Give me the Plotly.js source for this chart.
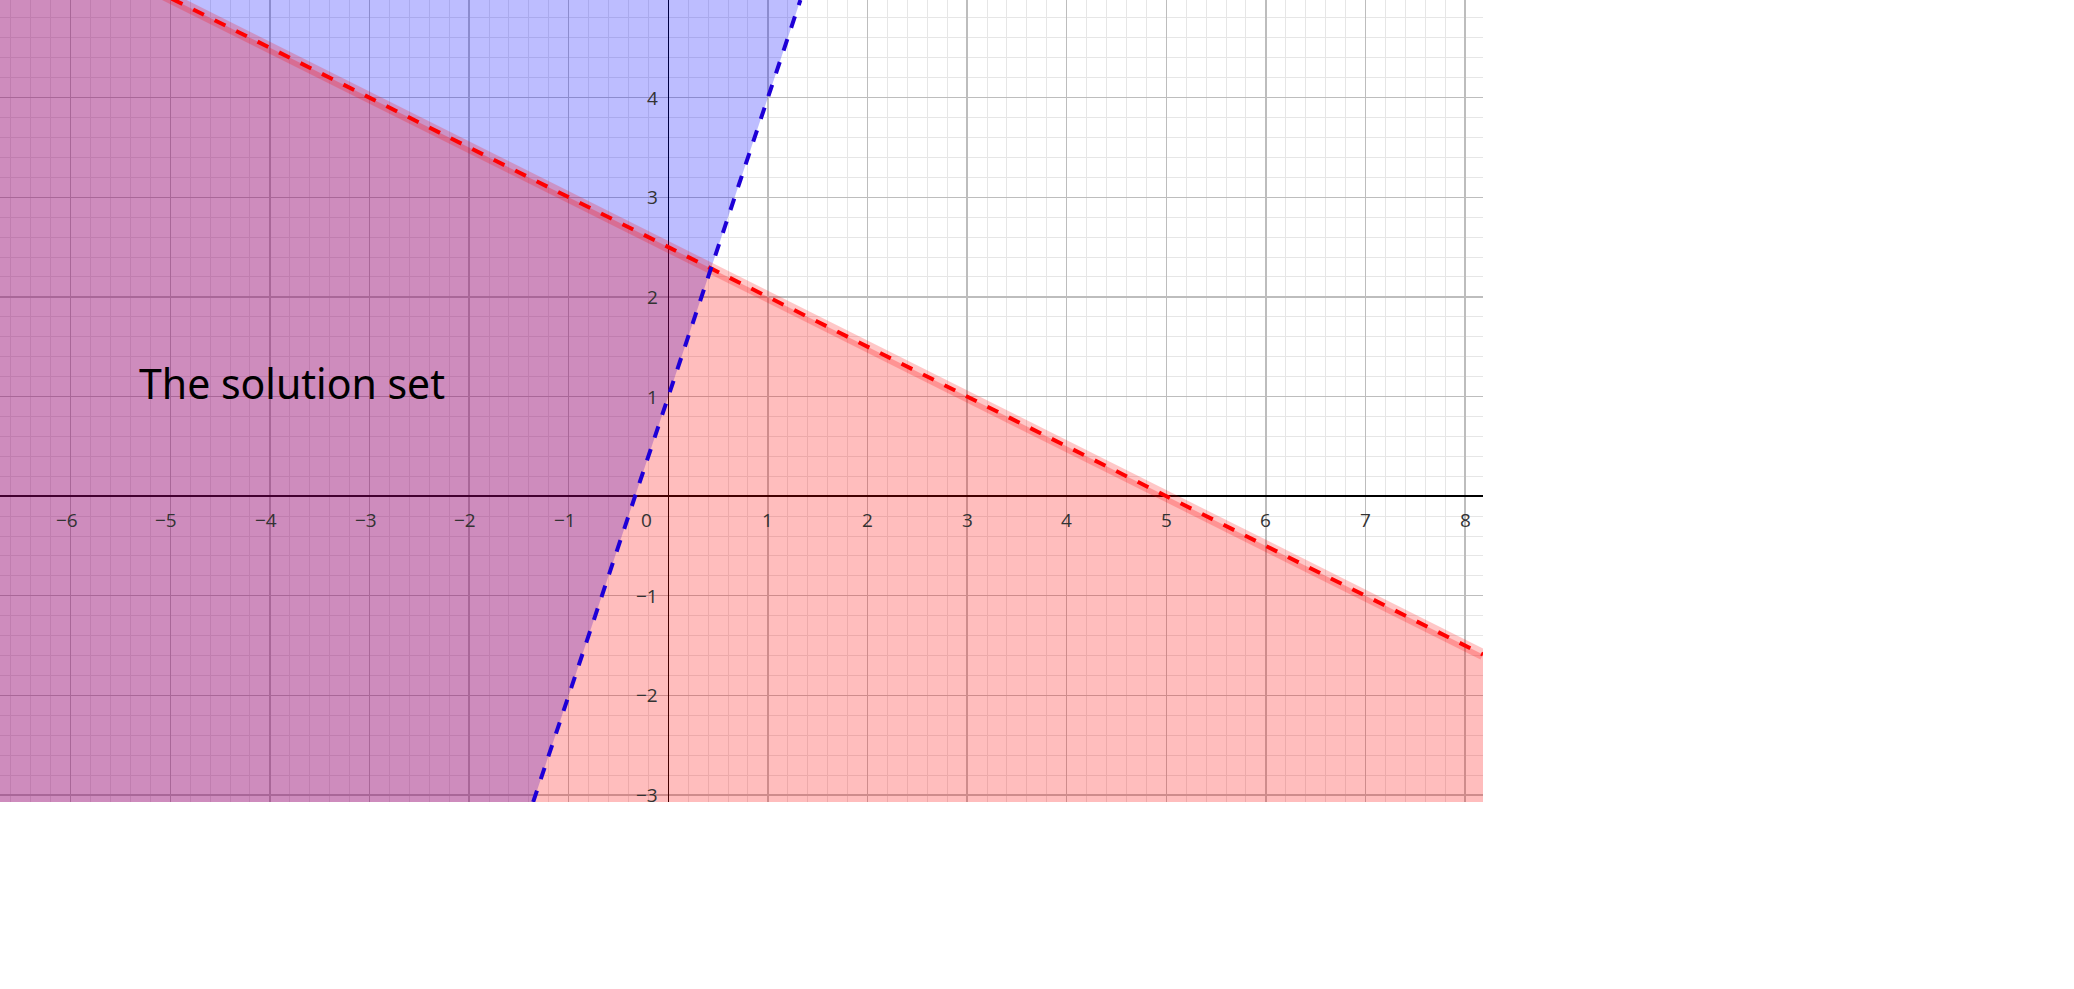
<!DOCTYPE html>
<html><head><meta charset="utf-8">
<script src="https://cdn.plot.ly/plotly-3.0.1.min.js"></script>
<style>html,body{margin:0;padding:0;background:#fff}</style>
</head><body><div id="c" style="width:2074px;height:989px"></div>
<script>
// Inequalities: y < 2.5 - 0.5x (red), y > 3x + 1 (blue)
const redLine = {slope: -0.5, intercept: 2.5};
const blueLine = {slope: 3, intercept: 1};
const xRange = [-6.71, 8.18];
const yRange = [-3.07, 4.98];
const xTicks = [-6,-5,-4,-3,-2,-1,0,1,2,3,4,5,6,7,8];
const yTicks = [-3,-2,-1,1,2,3,4];
const label = {text: "The solution set", x: -3.78, y: 1.14};

const f = (l, x) => l.slope*x + l.intercept;
const inv = (l, y) => (y - l.intercept)/l.slope;
const [x0,x1] = xRange, [y0,y1] = yRange;

const blueFill = {x:[x0, inv(blueLine,y0), inv(blueLine,y1), x0], y:[y0,y0,y1,y1],
  fill:'toself', mode:'lines', line:{width:0}, fillcolor:'rgba(0,0,255,0.26)', hoverinfo:'skip'};
const redFill = {x:[x0, x1, x1, x0], y:[f(redLine,x0), f(redLine,x1), y0, y0],
  fill:'toself', mode:'lines', line:{width:0}, fillcolor:'rgba(255,0,0,0.26)', hoverinfo:'skip'};
const redHalo = {x:[x0,x1], y:[f(redLine,x0), f(redLine,x1)], mode:'lines',
  line:{color:'rgba(255,0,0,0.22)', width:11}};
const redL = {x:[x0,x1], y:[f(redLine,x0), f(redLine,x1)], mode:'lines',
  line:{color:'#ff0000', width:4, dash:'dash'}};
const blueL = {x:[inv(blueLine,y0), inv(blueLine,y1)], y:[y0,y1], mode:'lines',
  line:{color:'rgb(30,0,215)', width:4, dash:'dash'}};

const ann = [];
xTicks.forEach(v => ann.push({x: v===0 ? -0.22 : v, y:0, text: v<0 ? '\u2212'+(-v) : String(v),
  showarrow:false, yshift:-24, xshift: v<0 ? -4 : 0, font:{family:'Open Sans', size:19, color:'#333'}}));
yTicks.forEach(v => ann.push({x:0, y:v, text: v<0 ? '\u2212'+(-v) : String(v),
  showarrow:false, xanchor:'right', xshift:-8, font:{family:'Open Sans', size:19, color:'#333'}}));
ann.push({x:label.x, y:label.y, text:label.text, showarrow:false,
  font:{family:'Noto Sans', size:41, color:'#000'}});

const ax = (r) => ({range:r, dtick:1, showgrid:true, gridcolor:'#bdbdbd', gridwidth:1.3,
  minor:{dtick:0.2, showgrid:true, gridcolor:'#e6e6e6', gridwidth:1},
  zeroline:true, zerolinecolor:'#000', zerolinewidth:1.5, showticklabels:false, ticks:'', fixedrange:true});

Plotly.newPlot('c', [blueFill, redFill, redHalo, redL, blueL], {
  width:2074, height:989, margin:{l:0, t:0, r:591, b:187},
  paper_bgcolor:'#fff', plot_bgcolor:'#fff', showlegend:false,
  xaxis: ax(xRange), yaxis: ax(yRange), annotations: ann
}, {displayModeBar:false, staticPlot:true});
</script></body></html>
